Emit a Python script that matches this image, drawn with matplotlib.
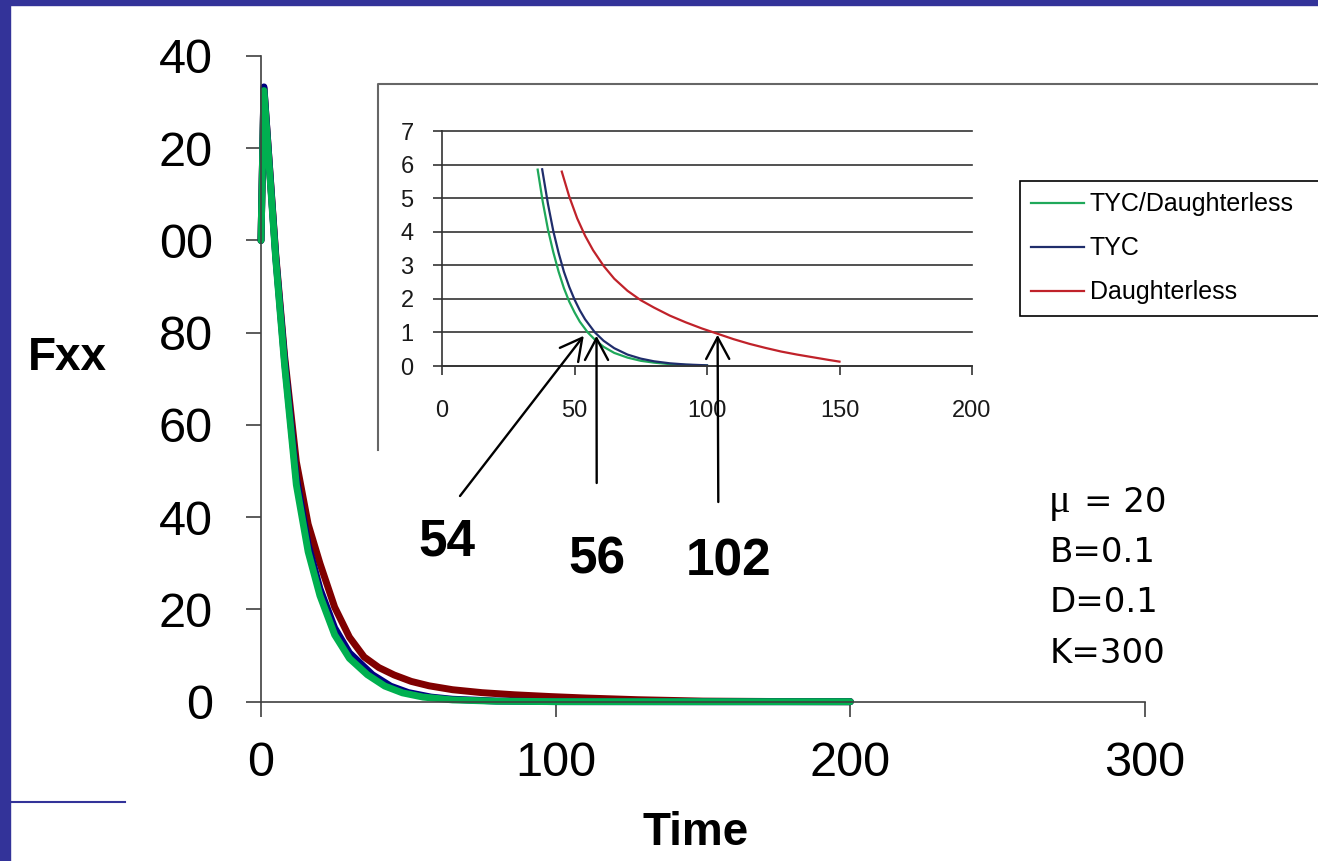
import matplotlib
matplotlib.use("Agg")
import matplotlib.pyplot as plt
from matplotlib.patches import Rectangle
from matplotlib.lines import Line2D
from matplotlib.transforms import Bbox, TransformedBbox, offset_copy

plt.rcParams['font.family'] = ['Liberation Sans', 'DejaVu Sans']

W, H = 1318, 861


def fx(px):
    return px / W


def fy(py):
    return 1 - py / H


# main chart: Fxx against time, three runs
green_t = [0, 1, 5, 8, 12, 16, 20, 25, 30, 36.1, 42, 48, 55, 65, 80, 100, 150, 200]
green_y = [100, 132.5, 96, 73, 47, 32.5, 23, 14.5, 9.4, 5.85, 3.39, 1.92, 1.0, 0.39, 0.1, 0.015, 0, 0]
blue_t = [0, 1, 5, 8, 12, 16, 20, 25, 30, 37.8, 44, 50, 57.7, 65, 80, 100, 150, 200]
blue_y = [100, 133.3, 96.5, 74, 48.5, 34, 24.5, 16, 10.6, 5.86, 3.37, 1.98, 1.0, 0.53, 0.14, 0.02, 0, 0]
red_t = [0, 1, 5, 8, 12, 16, 20, 25, 30, 35, 40, 45.2, 51, 57, 65, 75, 86, 98, 110, 128, 150, 175, 200]
red_y = [100, 133, 97, 75, 52, 38.5, 30, 20.5, 14, 9.7, 7.4, 5.79, 4.4, 3.45, 2.6, 1.96, 1.5, 1.12, 0.8, 0.43, 0.13, 0.04, 0.01]

main_xticks = [0, 100, 200, 300]
main_yticks = [0, 20, 40, 60, 80, 100, 120, 140]

# inset: zoom on the tail (Fxx < 6)
in_green_t = [36.1, 38, 40, 42, 44, 46, 48, 50, 52, 55, 58, 61, 65, 70, 75, 80, 86, 92, 100]
in_green_y = [5.85, 4.9, 4.06, 3.39, 2.81, 2.32, 1.92, 1.6, 1.32, 1.0, 0.76, 0.57, 0.39, 0.25, 0.155, 0.1, 0.055, 0.032, 0.015]
in_blue_t = [37.8, 40, 42, 44, 46, 48, 50, 52, 54, 57.7, 61, 65, 70, 75, 80, 86, 92, 100]
in_blue_y = [5.86, 4.82, 4.02, 3.37, 2.81, 2.36, 1.98, 1.66, 1.39, 1.0, 0.75, 0.53, 0.34, 0.22, 0.14, 0.08, 0.045, 0.02]
in_red_t = [45.2, 48, 51, 54, 57, 61, 65, 70, 75, 80, 86, 92, 98, 104, 110, 116, 122, 128, 134, 140, 146, 150]
in_red_y = [5.79, 5.05, 4.4, 3.88, 3.45, 2.98, 2.6, 2.24, 1.96, 1.74, 1.5, 1.3, 1.12, 0.96, 0.8, 0.66, 0.54, 0.43, 0.34, 0.26, 0.18, 0.13]

inset_xticks = [0, 50, 100, 150, 200]
inset_yticks = [0, 1, 2, 3, 4, 5, 6, 7]
series_labels = ['TYC/Daughterless', 'TYC', 'Daughterless']

# where each curve crosses Fxx = 1 (arrow tips) and the labels written under them
cross_t = [53.5, 58.3, 104.0]
cross_y = [0.9, 0.9, 0.93]
cross_labels = ['54', '56', '102']

param_lines = ['B=0.1', 'D=0.1', 'K=300']

fig = plt.figure(figsize=(W / 100, H / 100), dpi=100)

# slide border
border = '#333399'
fig.patches.append(Rectangle((0, 0), fx(10), 1, transform=fig.transFigure, color=border, zorder=20))
fig.patches.append(Rectangle((0, fy(5)), 1, 5 / H, transform=fig.transFigure, color=border, zorder=20))
fig.lines.append(Line2D([fx(8), fx(125)], [fy(802), fy(802)], transform=fig.transFigure, color=border, lw=1.5))

# ---- main chart ----
ax = fig.add_axes([fx(261), fy(701.7), fx(1145) - fx(261), fy(56) - fy(701.7)])
kw = dict(lw=5, solid_capstyle='round', solid_joinstyle='round', clip_on=False)
ax.plot(red_t, red_y, color='#800000', **kw)
ax.plot(blue_t, blue_y, color='#000080', **kw)
ax.plot(green_t, green_y, color='#00B050', **kw)
ax.set_xlim(0, 300)
ax.set_ylim(0, 140)
for s in ['top', 'right']:
    ax.spines[s].set_visible(False)
for s in ['left', 'bottom']:
    ax.spines[s].set_color('#404040')
    ax.spines[s].set_linewidth(1.2)
ax.set_xticks(main_xticks)
ax.set_yticks(main_yticks)
ax.tick_params(direction='out', length=11, width=1.2, color='#404040', labelsize=35, pad=17, labelleft=False)

# y labels by hand: on the slide the leading "1" of 100-140 is cut off,
# only a sliver of its stem is left, well apart from the last two digits
# (Roboto's "1" has no foot, so the clipped piece is a clean bar)
lab_fs = 35
lab_right = 213
clip = TransformedBbox(Bbox.from_extents(fx(146), 0, 1, 1), fig.transFigure)
ylab_tr = offset_copy(ax.get_yaxis_transform(), fig=fig, y=-0.358 * lab_fs, units='points')
for v in main_yticks:
    s = str(v)
    fig.text(-(261 - lab_right) / 884, v, s[-2:], transform=ylab_tr, ha='right', va='baseline',
             fontsize=lab_fs)
    if len(s) > 2:
        t = fig.text(-(261 - 150) / 884, v, s[:-2], transform=ylab_tr, ha='right', va='baseline',
                     fontsize=lab_fs, family='Roboto', clip_on=True)
        t.set_clip_box(clip)

fig.text(fx(28), fy(358), 'Fxx', ha='left', va='center', fontsize=33, fontweight='bold')
fig.text(fx(695.5), fy(845), 'Time', ha='center', va='baseline', fontsize=33, fontweight='bold')

# ---- inset ----
fig.lines.append(Line2D([fx(377.5), fx(377.5), fx(1320)], [fy(450), fy(84), fy(84)],
                        transform=fig.transFigure, color='#666666', lw=1.5))

ax_in = fig.add_axes([fx(442), fy(366), fx(972) - fx(442), fy(131) - fy(366)])
h1, = ax_in.plot(in_green_t, in_green_y, color='#1FA85A', lw=1.6)
h2, = ax_in.plot(in_blue_t, in_blue_y, color='#1F2D6B', lw=1.6)
h3, = ax_in.plot(in_red_t, in_red_y, color='#C0222A', lw=1.6)
ax_in.set_xlim(0, 200)
ax_in.set_ylim(0, 7)
ax_in.set_xticks(inset_xticks)
ax_in.set_yticks(inset_yticks)
ax_in.grid(axis='y', color='#333333', lw=1.2)
ax_in.set_axisbelow(True)
for g in ax_in.get_ygridlines():
    g.set_clip_on(False)
for s in ['top', 'right']:
    ax_in.spines[s].set_visible(False)
for s in ['left', 'bottom']:
    ax_in.spines[s].set_color('#333333')
    ax_in.spines[s].set_linewidth(1.2)
ax_in.tick_params(direction='out', length=6.5, width=1.2, color='#333333',
                  labelsize=17, labelcolor='#1a1a1a', pad=14)
ax_in.tick_params(axis='x', pad=18)

leg = ax_in.legend([h1, h2, h3], series_labels, loc='upper left', mode='expand',
                   bbox_to_anchor=(fx(1020), fy(320), (1340 - 1020) / W, (320 - 181) / H),
                   bbox_transform=fig.transFigure,
                   fontsize=18, frameon=True, fancybox=False, edgecolor='black', framealpha=1,
                   handlelength=2.1, handletextpad=0.25, borderpad=0.45, labelspacing=0.8,
                   borderaxespad=0)
leg.get_frame().set_linewidth(1.2)

# arrows to the crossing times
tails = [(460, 496), (596.7, 483), (718.3, 502)]
label_pos = [(446.5, 555), (596.5, 573), (728.5, 575)]
for tt, yy, (px, py), lab, (lx, ly) in zip(cross_t, cross_y, tails, cross_labels, label_pos):
    ax_in.annotate('', xy=(tt, yy), xycoords='data', xytext=(fx(px), fy(py)),
                   textcoords='figure fraction', annotation_clip=False,
                   arrowprops=dict(arrowstyle='->,head_length=0.6,head_width=0.32',
                                   color='black', lw=1.7, mutation_scale=26, shrinkA=0, shrinkB=0))
    fig.text(fx(lx), fy(ly), lab, ha='center', va='baseline', fontsize=37, fontweight='bold')

# model parameters
pfont = dict(ha='left', va='baseline', fontsize=24.5, family='DejaVu Sans')
fig.text(fx(1049), fy(511.7), '\u03bc', ha='left', va='baseline', fontsize=29, family='Liberation Serif')
fig.text(fx(1084), fy(511.7), '= 20', **pfont)
for i, line in enumerate(param_lines):
    fig.text(fx(1050), fy(561.7 + 50.5 * i), line, **pfont)

fig.savefig('out.png', dpi=100)
